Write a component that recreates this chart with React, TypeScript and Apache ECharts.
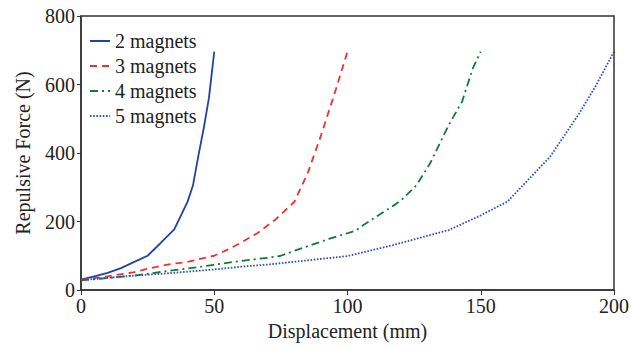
import React, { useEffect, useRef } from "react";
import * as echarts from "echarts";

const seriesNames = ["2 magnets", "3 magnets", "4 magnets", "5 magnets"];

const x2 = [0, 5, 10, 15, 20, 25, 30, 35, 40, 42, 44, 46, 48, 50];
const f2 = [30, 40, 50, 64, 82, 100, 138, 177, 258, 305, 390, 470, 560, 696];

const x3 = [0, 10, 20, 25, 33, 40, 47, 50, 55, 60, 66, 73, 80, 85, 90, 95, 100];
const f3 = [30, 40, 52, 62, 75, 82, 95, 100, 118, 138, 165, 206, 257, 340, 450, 570, 696];

const x4 = [0, 10, 20, 33, 45, 60, 71, 75, 81, 93, 103, 106, 118, 121, 126, 131, 138, 143, 147, 150];
const f4 = [28, 35, 42, 56, 68, 85, 95, 100, 117, 149, 173, 190, 250, 268, 307, 370, 482, 550, 647, 696];

const x5 = [0, 20, 33, 50, 60, 71, 100, 117, 138, 150, 160, 176, 187, 193, 200];
const f5 = [29, 42, 49, 60, 68, 75, 99, 131, 175, 218, 258, 389, 516, 594, 696];

const xTicks = { min: 0, max: 200, interval: 50 };
const yTicks = { min: 0, max: 800, interval: 200 };

const colors = ["#1f44a8", "#f03030", "#137a3c", "#2a50c4"];
const dashes: any[] = ["solid", [7, 5], [8, 4, 2, 4], [1.6, 1.6]];

const zip = (xs: number[], ys: number[]) => xs.map((x, i) => [x, ys[i]]);

export default function App() {
  const ref = useRef<HTMLDivElement>(null);
  useEffect(() => {
    if (!ref.current) return;
    const chart = echarts.init(ref.current, null, { renderer: "svg" });
    const font = "Liberation Serif";
    const datasets = [zip(x2, f2), zip(x3, f3), zip(x4, f4), zip(x5, f5)];
    chart.setOption({
      animation: false,
      backgroundColor: "#ffffff",
      grid: {
        left: 81,
        right: 17,
        top: 16,
        bottom: 58,
        show: true,
        borderColor: "#333",
        borderWidth: 1.5,
      },
      legend: {
        left: 84,
        top: 26,
        orient: "vertical",
        itemWidth: 20,
        itemHeight: 14,
        itemGap: 5,
        itemStyle: { opacity: 0 },
        textStyle: { fontFamily: font, fontSize: 20, color: "#222" },
        data: seriesNames,
      },
      xAxis: {
        type: "value",
        ...xTicks,
        name: "Displacement (mm)",
        nameLocation: "middle",
        nameGap: 29,
        nameTextStyle: { fontFamily: font, fontSize: 20, color: "#222" },
        axisLine: { onZero: false, lineStyle: { color: "#333", width: 1.5 } },
        axisTick: { show: true, length: 5, lineStyle: { color: "#333" } },
        axisLabel: { fontFamily: font, fontSize: 20, color: "#222", margin: 6 },
        splitLine: { show: false },
      },
      yAxis: {
        type: "value",
        ...yTicks,
        name: "Repulsive Force (N)",
        nameLocation: "middle",
        nameGap: 48,
        nameTextStyle: { fontFamily: font, fontSize: 20, color: "#222" },
        axisLine: { show: true, onZero: false, lineStyle: { color: "#333", width: 1.5 } },
        axisTick: { show: true, length: 4, lineStyle: { color: "#333" } },
        axisLabel: { fontFamily: font, fontSize: 20, color: "#222", margin: 6 },
        splitLine: { show: false },
      },
      series: seriesNames.map((name, i) => ({
        name,
        type: "line",
        data: datasets[i],
        symbol: "circle",
        showSymbol: false,
        smooth: false,
        color: colors[i],
        lineStyle: { color: colors[i], width: 1.8, type: dashes[i] },
      })),
    });
    return () => chart.dispose();
  }, []);
  return (
    <div
      ref={ref}
      style={{ position: "fixed", left: 0, top: 0, width: 632, height: 348, background: "#fff" }}
    />
  );
}
